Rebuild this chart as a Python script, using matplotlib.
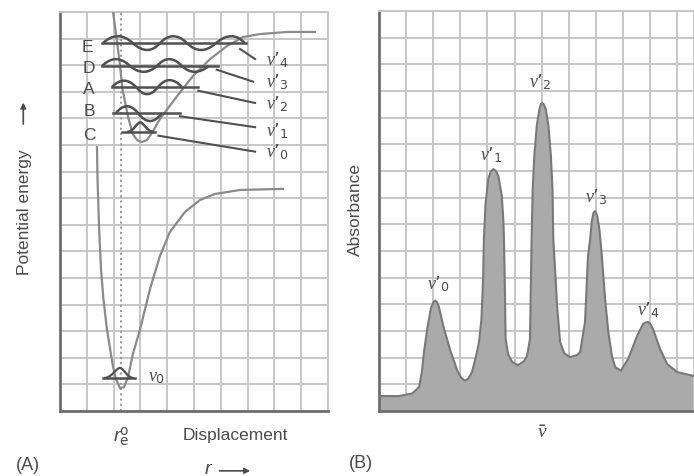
import matplotlib
matplotlib.use("Agg")
import matplotlib.pyplot as plt
from matplotlib.path import Path
from matplotlib.patches import PathPatch

plt.rcParams['font.family'] = ['Liberation Sans', 'DejaVu Sans']
plt.rcParams['mathtext.fontset'] = 'custom'
plt.rcParams['mathtext.rm'] = 'DejaVu Sans'
plt.rcParams['mathtext.it'] = 'Liberation Serif:italic'
plt.rcParams['mathtext.sf'] = 'Liberation Sans:italic'

# ---- (A) potential energy curves, traced in grid units ----
ground_r = [1.38, 1.40, 1.46, 1.53, 1.62, 1.75, 1.87, 1.98, 2.09, 2.24, 2.39,
            2.54, 2.72, 2.99, 3.36, 3.73, 4.10, 4.66, 5.22, 5.78, 6.72, 8.32]
ground_e = [9.92, 8.72, 6.84, 5.34, 4.21, 3.08, 2.33, 1.65, 1.20, 0.86, 0.90,
            1.28, 2.14, 3.08, 4.59, 5.83, 6.73, 7.48, 7.93, 8.16, 8.31, 8.35]
excited_r = [1.98, 2.13, 2.24, 2.33, 2.54, 2.72, 2.87, 3.06, 3.25, 3.43, 3.73,
             4.37, 4.96, 5.60, 6.23, 6.83, 7.46, 8.47, 9.51]
excited_e = [15.0, 13.87, 12.97, 12.11, 11.05, 10.41, 10.19, 10.11, 10.19, 10.45, 10.98,
             11.84, 12.59, 13.23, 13.72, 14.06, 14.17, 14.25, 14.25]
r_eq = 2.28

# ground level v0
v0_e = 1.24
v0_span = [1.60, 2.80]
v0_bell = [1.64, 2.24, 2.76]
v0_amp = 0.38

# excited levels v'0 .. v'4
level_names = ["C", "B", "A", "D", "E"]
level_labels = [r"$\nu\mathrm{’}_0$", r"$\nu\mathrm{’}_1$", r"$\nu\mathrm{’}_2$",
                r"$\nu\mathrm{’}_3$", r"$\nu\mathrm{’}_4$"]
level_e = [10.49, 11.20, 12.18, 12.97, 13.83]
level_x0 = [2.31, 1.98, 1.94, 1.57, 1.57]
level_x1 = [3.54, 4.48, 5.15, 5.90, 6.94]
wave_nodes = [
    [2.50, 3.51],
    [2.09, 2.91, 3.81],
    [1.94, 2.84, 3.66, 4.55],
    [1.57, 2.61, 3.62, 4.55, 5.56],
    [1.60, 2.72, 3.73, 4.74, 5.82, 6.90],
]
wave_peak_x = [
    [2.99],
    [2.50, 3.36],
    [2.39, 3.25, 4.07],
    [2.09, 3.13, 4.07, 5.00],
    [2.16, 3.28, 4.22, 5.26, 6.42],
]
wave_amp = [
    [0.36],
    [0.26, -0.30],
    [0.24, -0.27, 0.26],
    [0.26, -0.22, 0.26, -0.22],
    [0.26, -0.26, 0.26, -0.26, 0.26],
]
name_x = [1.10, 1.08, 1.08, 1.06, 1.04]
name_e = [10.40, 11.31, 12.14, 12.90, 13.70]
lead_x0 = [3.67, 4.48, 5.16, 5.85, 6.72]
lead_e0 = [10.35, 11.08, 12.04, 12.83, 13.61]
lead_x1 = [7.28, 7.28, 7.28, 7.21, 7.28]
lead_e1 = [9.75, 10.67, 11.58, 12.38, 13.23]
label_e = [9.76, 10.56, 11.56, 12.41, 13.23]
label_x = 7.69

# ---- (B) absorption spectrum, traced in grid units ----
spec_x = [0.00, 0.74, 1.23, 1.48, 1.58, 1.66, 1.78, 1.91, 2.00, 2.07, 2.14, 2.21,
          2.40, 2.65, 2.89, 3.03, 3.17, 3.30, 3.43, 3.58, 3.69, 3.78, 3.84, 3.87,
          3.93, 4.03, 4.12, 4.22, 4.31, 4.40, 4.53, 4.59, 4.61, 4.65, 4.67, 4.76,
          4.91, 5.13, 5.35, 5.46, 5.57, 5.63, 5.67, 5.73, 5.82, 5.92, 5.97, 6.02,
          6.08, 6.15, 6.25, 6.34, 6.40, 6.43, 6.57, 6.68, 6.83, 7.05, 7.31, 7.42,
          7.60, 7.71, 7.79, 7.85, 7.91, 7.97, 8.05, 8.13, 8.22, 8.34, 8.46, 8.59,
          8.71, 8.92, 9.19, 9.52, 9.74, 9.84, 9.93, 10.02, 10.11, 10.37, 10.63,
          11.00, 11.62]
spec_a = [0.56, 0.56, 0.66, 0.90, 1.46, 2.21, 3.08, 3.83, 4.07, 4.14, 4.08, 3.90,
          3.08, 2.21, 1.51, 1.25, 1.14, 1.22, 1.46, 2.06, 2.59, 3.45, 4.95, 6.45,
          7.76, 8.70, 8.98, 9.07, 9.00, 8.82, 8.07, 7.09, 6.45, 4.20, 2.70, 2.14,
          1.84, 1.72, 1.87, 2.06, 2.70, 6.45, 8.32, 9.57, 10.70, 11.32, 11.50, 11.55,
          11.50, 11.32, 10.70, 9.57, 8.32, 6.45, 3.94, 2.59, 2.17, 2.02, 2.10, 2.21,
          3.34, 5.81, 6.45, 7.12, 7.42, 7.50, 7.32, 6.82, 5.82, 4.20, 2.96, 2.07,
          1.65, 1.51, 1.95, 2.81, 3.26, 3.32, 3.34, 3.24, 3.07, 2.32, 1.76,
          1.46, 1.31]
peak_labels = level_labels
peak_label_x = [2.21, 4.13, 5.94, 8.01, 9.93]
peak_label_a = [4.80, 9.64, 12.37, 8.06, 3.82]

GRID = '#c6c6c6'
SPINE = '#6e6e6e'
CURVE = '#8a8a8a'
INK = '#505050'
TEXT = '#4a4a4a'


def lobe_path(nodes, peaks, amps, base):
    verts = [(nodes[0], base)]
    codes = [Path.MOVETO]
    for i in range(len(peaks)):
        verts += [(peaks[i], base + 2 * amps[i]), (nodes[i + 1], base)]
        codes += [Path.CURVE3, Path.CURVE3]
    return Path(verts, codes)


def bell_path(left, peak, right, amp, base):
    top = base + amp
    verts = [(left, base), ((left + peak) / 2, base), (peak - 0.25 * (peak - left), top), (peak, top),
             (peak + 0.25 * (right - peak), top), ((peak + right) / 2, base), (right, base)]
    codes = [Path.MOVETO] + [Path.CURVE4] * 6
    return Path(verts, codes)


def grid_axes(ax, xmax):
    ax.set_xlim(0, xmax)
    ax.set_ylim(0, 15)
    ax.set_xticks(range(0, int(xmax) + 1))
    ax.set_yticks(range(0, 16))
    ax.tick_params(length=0, labelbottom=False, labelleft=False)
    ax.grid(True, color=GRID, lw=1.4)
    ax.set_axisbelow(True)
    for s in ['left', 'bottom']:
        ax.spines[s].set_color(SPINE)
        ax.spines[s].set_linewidth(2)
    for s in ['top', 'right']:
        ax.spines[s].set_color(GRID)
        ax.spines[s].set_linewidth(1.4)


fig = plt.figure(figsize=(6.94, 4.77), dpi=100)
axA = fig.add_axes([60 / 694, 65 / 477, 268 / 694, 399 / 477])
axB = fig.add_axes([379 / 694, 65 / 477, 315 / 694, 400 / 477])

# ---------- panel A ----------
grid_axes(axA, 10)
axA.axvline(r_eq, color='#9a9a9a', lw=1.5, ls=(0, (1, 1.5)), zorder=2)
axA.plot(ground_r, ground_e, color=CURVE, lw=1.6, zorder=3)
axA.plot(excited_r, excited_e, color=CURVE, lw=1.6, zorder=3)

axA.plot(v0_span, [v0_e, v0_e], color=INK, lw=1.8, zorder=4)
axA.add_patch(PathPatch(bell_path(v0_bell[0], v0_bell[1], v0_bell[2], v0_amp, v0_e),
                        fill=False, ec=INK, lw=1.6, zorder=4))
axA.text(3.28, 1.30, r"$\nu_0$", fontsize=13, color=TEXT, ha='left', va='center')

for i in range(len(level_e)):
    axA.plot([level_x0[i], level_x1[i]], [level_e[i], level_e[i]], color=INK, lw=1.8, zorder=4)
    if i == 0:
        p = bell_path(wave_nodes[0][0], wave_peak_x[0][0], wave_nodes[0][1], wave_amp[0][0], level_e[0])
    else:
        p = lobe_path(wave_nodes[i], wave_peak_x[i], wave_amp[i], level_e[i])
    axA.add_patch(PathPatch(p, fill=False, ec=INK, lw=1.8, zorder=4))
    axA.plot([lead_x0[i], lead_x1[i]], [lead_e0[i], lead_e1[i]], color=INK, lw=1.5, zorder=4)
    axA.text(name_x[i], name_e[i], level_names[i], fontsize=12.5, color=TEXT,
             ha='center', va='center')
    axA.text(label_x, label_e[i], level_labels[i], fontsize=13, color=TEXT,
             ha='left', va='center')

axA.text(-0.134, 0.50, "Potential energy", transform=axA.transAxes, rotation=90,
         fontsize=12.5, color=TEXT, ha='center', va='center')
axA.annotate("", xy=(-0.137, 0.78), xytext=(-0.137, 0.712), xycoords='axes fraction',
             textcoords='axes fraction',
             arrowprops=dict(arrowstyle='-|>', color=TEXT, lw=1.2, mutation_scale=8))
axA.text(0.230, -0.063, r"$\mathsf{r}_{\mathrm{e}}^{\mathrm{o}}$", transform=axA.transAxes,
         fontsize=14, color=TEXT, ha='center', va='center')
axA.text(0.655, -0.060, "Displacement", transform=axA.transAxes,
         fontsize=12.5, color=TEXT, ha='center', va='center')
axA.text(0.556, -0.145, r"$\mathsf{r}$", transform=axA.transAxes,
         fontsize=14, color=TEXT, ha='center', va='center')
axA.annotate("", xy=(0.72, -0.150), xytext=(0.585, -0.150), xycoords='axes fraction',
             textcoords='axes fraction',
             arrowprops=dict(arrowstyle='-|>', color=TEXT, lw=1.2, mutation_scale=8))
axA.text(-0.119, -0.133, "(A)", transform=axA.transAxes,
         fontsize=13, color=TEXT, ha='center', va='center')

# ---------- panel B ----------
grid_axes(axB, spec_x[-1])
axB.fill_between(spec_x, 0, spec_a, color='#aaaaaa', lw=0, zorder=2)
axB.plot(spec_x, spec_a, color='#787878', lw=1.5, zorder=3)
for i in range(len(peak_labels)):
    axB.text(peak_label_x[i], peak_label_a[i], peak_labels[i], fontsize=13, color=TEXT,
             ha='center', va='center')

axB.text(-0.076, 0.505, "Absorbance", transform=axB.transAxes, rotation=90,
         fontsize=12.5, color=TEXT, ha='center', va='center')
axB.text(0.517, -0.055, r"$\bar{\nu}$", transform=axB.transAxes,
         fontsize=14, color=TEXT, ha='center', va='center')
axB.text(-0.057, -0.128, "(B)", transform=axB.transAxes,
         fontsize=13, color=TEXT, ha='center', va='center')

fig.savefig("out.png", dpi=100)
